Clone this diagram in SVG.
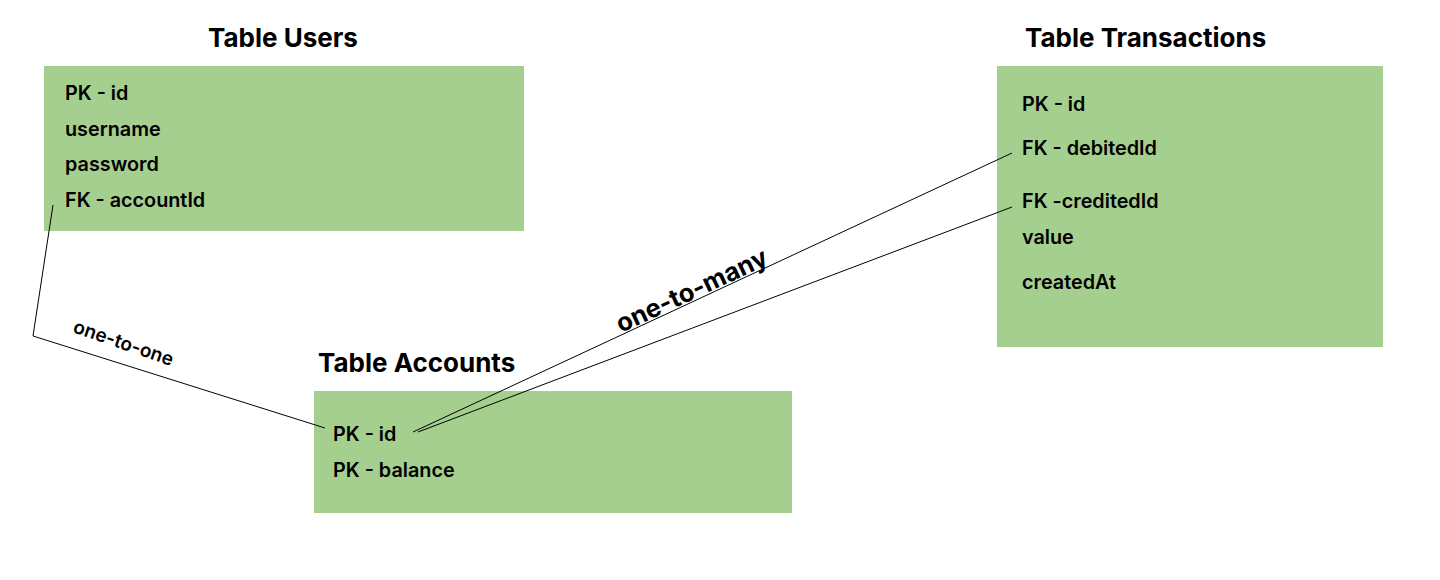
<svg xmlns="http://www.w3.org/2000/svg" width="1440" height="580" viewBox="0 0 1440 580">
<style>
.box{fill:#a5cf8f}
.title{font-family:Inter,"Liberation Sans",sans-serif;font-weight:700;font-size:26px;fill:#000}
.f{font-family:Inter,"Liberation Sans",sans-serif;font-weight:600;font-size:19.8px;fill:#000}
.conn{fill:none;stroke:#000;stroke-width:1}
.lbl{font-family:Inter,"Liberation Sans",sans-serif;font-weight:600;font-size:19px;fill:#000}
.lbl2{font-family:Inter,"Liberation Sans",sans-serif;font-weight:700;font-size:25.5px;fill:#000}
</style>
<rect width="1440" height="580" fill="#fff"/>
<g id="users">
<text class="title" x="208" y="47">Table Users</text>
<rect class="box" x="44" y="66" width="480" height="165"/>
<text class="f" x="65" y="100">PK - id</text>
<text class="f" x="65" y="136">username</text>
<text class="f" x="65" y="171">password</text>
<text class="f" x="65" y="207">FK - accountId</text>
</g>
<g id="transactions">
<text class="title" x="1025" y="47">Table Transactions</text>
<rect class="box" x="997" y="66" width="386" height="281"/>
<text class="f" x="1022" y="111">PK - id</text>
<text class="f" x="1022" y="155">FK - debitedId</text>
<text class="f" x="1022" y="208">FK -creditedId</text>
<text class="f" x="1022" y="244">value</text>
<text class="f" x="1022" y="289">createdAt</text>
</g>
<g id="accounts">
<text class="title" x="318" y="372">Table Accounts</text>
<rect class="box" x="314" y="391" width="478" height="122"/>
<text class="f" x="333" y="441">PK - id</text>
<text class="f" x="333" y="477">PK - balance</text>
</g>
<g id="connectors">
<polyline class="conn" points="53,205 33,336 325,428"/>
<line class="conn" x1="413" y1="432" x2="1012" y2="153"/>
<line class="conn" x1="418" y1="432" x2="1012" y2="207"/>
<text class="lbl" transform="translate(72,332) rotate(19)">one-to-one</text>
<text class="lbl2" transform="translate(621,333) rotate(-25)">one-to-many</text>
</g>
</svg>
